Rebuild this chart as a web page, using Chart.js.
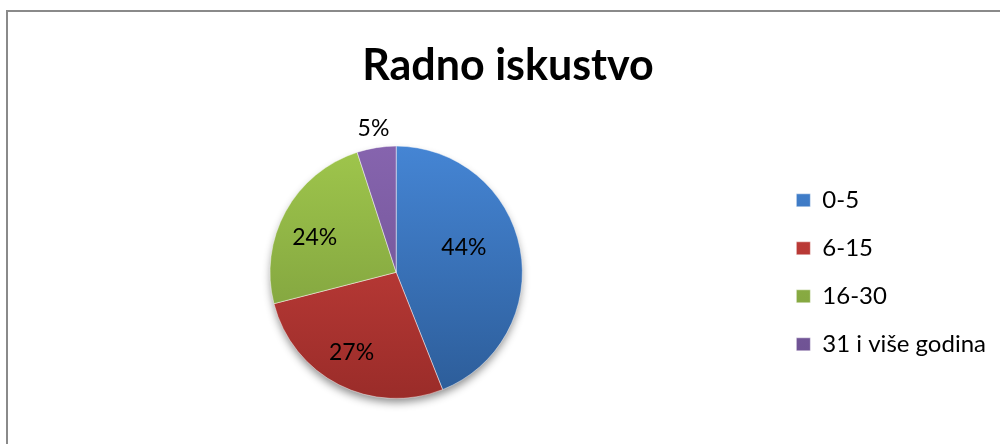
<!DOCTYPE html>
<html>
<head>
<meta charset="utf-8">
<script src="https://cdn.jsdelivr.net/npm/chart.js@4.4.1/dist/chart.umd.min.js"></script>
<style>
html, body { margin: 0; padding: 0; background: #fff; }
#wrap { position: relative; width: 1000px; height: 444px; }
</style>
</head>
<body>
<div id="wrap"><canvas id="pieChart" width="1000" height="444"></canvas></div>
<script>
// categories and values (percent)
const categories = ["0-5", "6-15", "16-30", "31 i više godina"];
const values = [44, 27, 24, 5];

// light top / dark bottom of each slice
const lightColors = ["#4585d4", "#cf433f", "#9fc64c", "#8664ae"];
const darkColors = ["#2c5c98", "#9a2c29", "#76963a", "#6a4f8e"];

function sliceColor(c) {
  const i = c.dataIndex;
  const area = c.chart.chartArea;
  if (!area) return lightColors[i];
  const g = c.chart.ctx.createLinearGradient(0, area.top, 0, area.bottom);
  g.addColorStop(0, lightColors[i]);
  g.addColorStop(1, darkColors[i]);
  return g;
}

// frame drawn on the canvas
const framePlugin = {
  id: "frame",
  beforeDraw(chart) {
    const ctx = chart.ctx;
    ctx.save();
    ctx.strokeStyle = "#8a8a8a";
    ctx.lineWidth = 2;
    ctx.beginPath();
    ctx.moveTo(7, 444);
    ctx.lineTo(7, 11);
    ctx.lineTo(1000, 11);
    ctx.stroke();
    ctx.restore();
  }
};

// soft shadow under the pie
const shadowPlugin = {
  id: "pieShadow",
  beforeDatasetsDraw(chart) {
    const arc = chart.getDatasetMeta(0).data[0];
    if (!arc) return;
    const ctx = chart.ctx;
    ctx.save();
    ctx.shadowColor = "rgba(0,0,0,0.45)";
    ctx.shadowBlur = 9;
    ctx.shadowOffsetY = 5;
    ctx.fillStyle = "#fff";
    ctx.beginPath();
    ctx.arc(arc.x, arc.y, arc.outerRadius - 1, 0, Math.PI * 2);
    ctx.fill();
    ctx.restore();
  }
};

// percentage labels
const labelPlugin = {
  id: "sliceLabels",
  afterDatasetsDraw(chart, args, opts) {
    const ctx = chart.ctx;
    const meta = chart.getDatasetMeta(0);
    const data = chart.data.datasets[0].data;
    const total = data.reduce((a, b) => a + b, 0);
    ctx.save();
    ctx.font = opts.font;
    ctx.fillStyle = "#000";
    ctx.textAlign = "center";
    ctx.textBaseline = "middle";
    meta.data.forEach((arc, i) => {
      const mid = (arc.startAngle + arc.endAngle) / 2 + opts.angleShift[i] * Math.PI / 180;
      const r = arc.outerRadius * opts.radius[i];
      const x = arc.x + Math.cos(mid) * r;
      const y = arc.y + Math.sin(mid) * r;
      ctx.fillText(Math.round(data[i] / total * 100) + "%", x, y);
    });
    ctx.restore();
  }
};

new Chart(document.getElementById("pieChart").getContext("2d"), {
  type: "pie",
  data: {
    labels: categories,
    datasets: [{
      data: values,
      backgroundColor: sliceColor,
      borderColor: "rgba(255,255,255,0.45)",
      borderWidth: 1
    }]
  },
  plugins: [framePlugin, shadowPlugin, labelPlugin],
  options: {
    responsive: false,
    animation: false,
    layout: {
      padding: { left: 20, right: 4, top: 0, bottom: 45 }
    },
    plugins: {
      title: {
        display: true,
        text: "Radno iskustvo",
        color: "#000",
        font: { family: "Lato", size: 43, weight: "bold" },
        padding: { top: 40, bottom: 54 }
      },
      legend: {
        position: "right",
        fullSize: false,
        labels: {
          color: "#000",
          font: { family: "Lato", size: 24 },
          boxWidth: 14,
          boxHeight: 13,
          padding: 24
        }
      },
      tooltip: { enabled: false },
      sliceLabels: {
        font: "23px Lato",
        radius: [0.57, 0.73, 0.70, 1.15],
        angleShift: [-9, 2, -6, 0]
      }
    }
  }
});
</script>
</body>
</html>
